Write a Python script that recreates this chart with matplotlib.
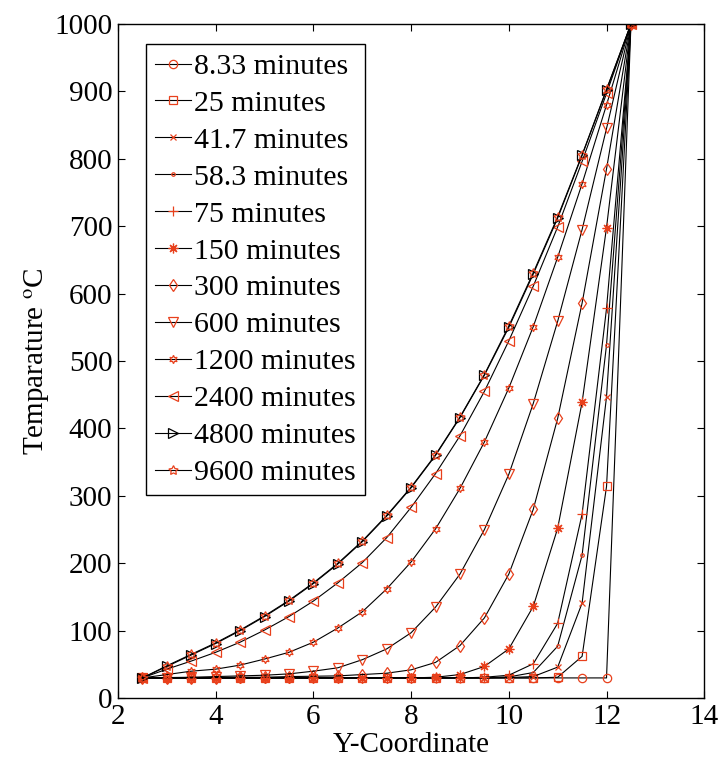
import matplotlib
matplotlib.use('Agg')
import matplotlib.pyplot as plt

plt.rcParams['font.family'] = ['Liberation Serif', 'DejaVu Serif']
plt.rcParams['mathtext.fontset'] = 'stix'

# y-coordinate of the nodes
y_coord = [2.5, 3, 3.5, 4, 4.5, 5, 5.5, 6, 6.5, 7, 7.5, 8, 8.5, 9, 9.5, 10,
           10.5, 11, 11.5, 12, 12.5]

# temperatures, one list per time step
t_8 = [30, 30, 30, 30, 30, 30, 30, 30, 30, 30, 30, 30, 30, 30, 30, 30,
       30, 30, 30, 30, 1000]
t_25 = [30, 30, 30, 30, 30, 30, 30, 30, 30, 30, 30, 30, 30, 30, 30, 30,
        30, 31, 62, 314, 1000]
t_41 = [30, 30, 30, 30, 30, 30, 30, 30, 30, 30, 30, 30, 30, 30, 30, 30.5,
        32, 46, 141, 447, 1000]
t_58 = [30, 30, 30, 30, 30, 30, 30, 30, 30, 30, 30, 30, 30, 30, 30, 31.5,
        38, 77, 212, 524, 1000]
t_75 = [30, 30, 30, 30, 30, 30, 30, 30, 30, 30, 30, 30, 30, 30, 31, 34,
        51, 111, 273, 578, 1000]
t_150 = [30, 30, 30, 30, 30, 30, 30, 30, 30, 30, 30, 30, 31, 35, 47, 73,
         136, 252, 439, 698, 1000]
t_300 = [30, 30, 30, 30.5, 31, 31, 32, 32.5, 33, 35, 37, 42, 53, 78, 119, 184,
         280, 415, 586, 785, 1000]
t_600 = [30, 30.5, 31, 32, 33, 34, 36, 40, 45, 57, 73, 97, 135, 184, 250, 332,
         437, 559, 695, 845, 1000]
t_1200 = [30, 35, 40, 43, 49, 58, 68, 83, 104, 128, 162, 202, 251, 311, 380,
          460, 551, 654, 763, 880, 1000]
t_2400 = [30, 43, 55, 68, 83, 101, 121, 144, 171, 201, 238, 283, 333, 389,
          455, 530, 611, 699, 796, 897, 1000]
t_4800 = [30, 47, 64, 81, 100, 121, 144, 170, 199, 232, 270, 312, 360, 416,
          479, 550, 629, 712, 805, 902, 1000]
t_9600 = [30, 48, 65, 82, 101, 122, 145, 171, 200, 233, 271, 313, 361, 417,
          480, 552, 631, 714, 806, 903, 1000]

labels = ['8.33 minutes', '25 minutes', '41.7 minutes', '58.3 minutes',
          '75 minutes', '150 minutes', '300 minutes', '600 minutes',
          '1200 minutes', '2400 minutes', '4800 minutes', '9600 minutes']
series = [t_8, t_25, t_41, t_58, t_75, t_150, t_300, t_600, t_1200, t_2400,
          t_4800, t_9600]

red = '#e8401c'
markers = ['o', 's', 'x', '.', '+', (8, 2, 0), 'd', 'v', (6, 1, 0), '<', '>',
           (5, 1, 0)]
mcolors = [red] * 10 + ['black', red]
msizes = [6, 6, 4, 5, 7, 7, 6, 7, 6, 7, 7, 7]

fig = plt.figure(figsize=(7.22, 7.63), dpi=100)
ax = fig.add_axes([0.1634, 0.085, 0.812, 0.8836])

for t, lab, m, mc, ms in zip(series, labels, markers, mcolors, msizes):
    ax.plot(y_coord, t, color='black', lw=0.8, marker=m, ms=ms,
            markerfacecolor='none', markeredgecolor=mc, markeredgewidth=0.9,
            label=lab)

ax.set_xlim(2, 14)
ax.set_ylim(0, 1000)
ax.set_xticks([2, 4, 6, 8, 10, 12, 14])
ax.set_yticks(range(0, 1001, 100))
ax.tick_params(direction='in', top=True, right=True, labelsize=21,
               length=5, width=0.8, pad=4)
for s in ax.spines.values():
    s.set_linewidth(1.0)

ax.set_xlabel('Y-Coordinate', fontsize=21, labelpad=2)
ax.set_ylabel(r'Temparature $^{\mathrm{o}}$C', fontsize=21, labelpad=2)

leg = ax.legend(loc='upper left', fontsize=21.5, frameon=True, fancybox=False,
                edgecolor='black', framealpha=1, handlelength=1.2,
                handletextpad=0.12, labelspacing=0.335, borderpad=0.3,
                borderaxespad=0, bbox_to_anchor=(0.048, 0.970))
leg.get_frame().set_linewidth(1.0)

fig.savefig('out.png', dpi=100)
